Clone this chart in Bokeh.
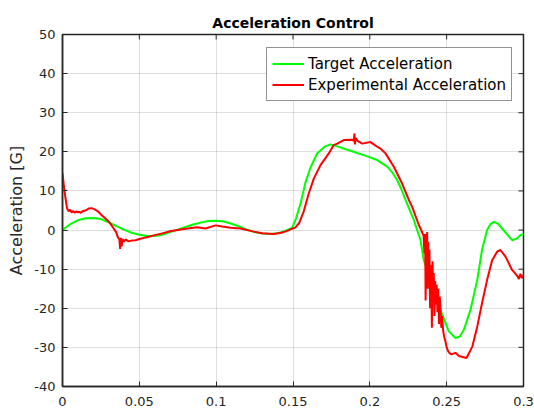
import math
from bokeh.plotting import figure
from bokeh.models import Range1d, FixedTicker, Legend, LegendItem
from bokeh.embed import file_html
from bokeh.resources import INLINE

# ---- data ----
title_text = "Acceleration Control"
y_label = "Acceleration [G]"
series_names = ["Target Acceleration", "Experimental Acceleration"]

x_min, x_max = 0, 0.3
y_min, y_max = -40, 50
x_ticks = [0, 0.05, 0.1, 0.15, 0.2, 0.25, 0.3]
x_tick_labels = ["0", "0.05", "0.1", "0.15", "0.2", "0.25", "0.3"]
y_ticks = [-40, -30, -20, -10, 0, 10, 20, 30, 40, 50]
y_tick_labels = ["-40", "-30", "-20", "-10", "0", "10", "20", "30", "40", "50"]

target_t = [0, 0.005, 0.01, 0.015, 0.02, 0.025, 0.03, 0.035, 0.04, 0.045,
            0.05, 0.055, 0.06, 0.065, 0.07, 0.075, 0.08, 0.085, 0.09, 0.095,
            0.1, 0.105, 0.11, 0.115, 0.12, 0.125, 0.13, 0.135, 0.14, 0.145,
            0.1495, 0.152, 0.155, 0.158, 0.1614, 0.1657, 0.171, 0.1744, 0.1788,
            0.185, 0.1918, 0.198, 0.2048, 0.2113, 0.2145, 0.2178, 0.2205, 0.2232,
            0.2286, 0.233, 0.2351, 0.24, 0.245, 0.2514, 0.2557, 0.2585, 0.2612,
            0.2655, 0.2699, 0.273, 0.2763, 0.2785, 0.2807, 0.2835, 0.2861,
            0.2926, 0.2955, 0.298, 0.3]
target_acc = [0, 1.5, 2.5, 3.0, 3.1, 2.8, 2.0, 1.0, 0.1, -0.7,
              -1.2, -1.5, -1.5, -1.2, -0.5, 0.1, 0.8, 1.4, 1.9, 2.3,
              2.4, 2.2, 1.6, 0.9, 0.1, -0.5, -0.9, -1.0, -0.8, -0.2,
              0.6, 3.0, 6.9, 12.0, 16.0, 19.6, 21.4, 21.9, 21.4,
              20.6, 19.7, 18.9, 17.9, 16.2, 14.8, 12.8, 10.5, 7.7,
              2.6, -2.6, -7.7, -13.5, -19.5, -25.9, -27.6, -27.2, -25.5,
              -20.4, -12.8, -5.1, 0.0, 1.5, 2.1, 1.6, 0.4,
              -2.6, -2.2, -1.3, -1.0]

exp_t = [0, 0.001, 0.002, 0.003, 0.004, 0.005, 0.006, 0.007, 0.008, 0.009,
         0.010, 0.011, 0.012, 0.013, 0.015, 0.017, 0.019, 0.021, 0.023, 0.025,
         0.027, 0.029, 0.031, 0.033, 0.035, 0.036, 0.037, 0.0375, 0.038, 0.0385,
         0.039, 0.040, 0.041, 0.043, 0.045, 0.0475, 0.05, 0.053, 0.0562, 0.06,
         0.0649, 0.07, 0.0779, 0.0876, 0.093, 0.0996, 0.104, 0.1093, 0.1158,
         0.1245, 0.13, 0.1375, 0.1425, 0.1462, 0.1516, 0.154, 0.157, 0.1603,
         0.1636, 0.1679, 0.1733, 0.1764, 0.1788, 0.1831, 0.1885, 0.1895, 0.1900,
         0.1903, 0.1908, 0.192, 0.195, 0.2004, 0.2048, 0.207, 0.2102, 0.2156,
         0.221, 0.2254, 0.2275, 0.2319, 0.2340, 0.2350, 0.2355, 0.2360, 0.2363,
         0.2367, 0.2370, 0.2373, 0.2377, 0.2380, 0.2384, 0.2388, 0.2392, 0.2396,
         0.2400, 0.2404, 0.2408, 0.2412, 0.2416, 0.2420, 0.2425, 0.2430, 0.2435,
         0.2440, 0.2445, 0.2450, 0.2455, 0.2460, 0.2465, 0.2470, 0.2478, 0.2485,
         0.2492, 0.2500, 0.2510, 0.2520, 0.2530, 0.2557, 0.258, 0.2629, 0.2667,
         0.2699, 0.273, 0.2763, 0.2796, 0.2829, 0.285, 0.2883, 0.2926, 0.2959,
         0.297, 0.298, 0.299, 0.3]
exp_acc = [14.5, 11.0, 8.0, 5.5, 4.8, 5.2, 4.5, 4.9, 4.4, 4.8,
           4.5, 4.7, 4.4, 4.8, 5.0, 5.5, 5.6, 5.3, 4.8, 4.0,
           3.3, 2.6, 1.7, 0.6, -0.6, -1.8, -2.4, -4.8, -2.0, -4.2,
           -2.3, -3.0, -2.4, -2.9, -2.7, -2.6, -2.3, -2.0, -1.7, -1.3,
           -0.85, -0.3, 0.2, 0.7, 0.4, 1.2, 0.9, 0.6, 0.4,
           -0.4, -0.8, -1.0, -0.7, -0.2, 0.7, 1.8, 4.8, 9.4,
           13.2, 16.6, 19.6, 21.7, 22.1, 23.0, 23.1, 22.8, 24.7,
           21.9, 23.5, 22.8, 22.1, 22.5, 21.3, 20.8, 19.6, 16.2,
           11.9, 7.7, 6.0, 1.3, -0.5, -1.5, -6.0, -1.0, -18.0,
           -4.0, -10.0, -0.5, -15.0, -3.0, -12.0, -5.0, -20.0, -9.0,
           -14.0, -25.0, -8.0, -16.0, -11.0, -22.0, -13.0, -19.0, -14.0,
           -21.0, -15.0, -24.0, -17.0, -20.0, -25.0, -22.0, -26.0, -27.5,
           -28.5, -30.0, -31.0, -31.5, -31.8, -31.4, -32.2, -32.7, -29.8,
           -24.7, -18.7, -12.8, -7.7, -5.5, -5.1, -6.8, -10.2, -11.7,
           -12.5, -11.2, -12.3, -11.5]

FONT = "DejaVu Sans"
AX_COLOR = "#262626"

p = figure(width=534, height=412,
           x_range=Range1d(x_min, x_max), y_range=Range1d(y_min, y_max),
           output_backend="svg", toolbar_location=None,
           min_border_left=62, min_border_right=11,
           min_border_top=34, min_border_bottom=26,
           background_fill_color="white", border_fill_color="white")

p.title.text = title_text
p.title.text_font = FONT
p.title.text_font_size = "14px"
p.title.text_font_style = "bold"
p.title.text_color = "#000000"
p.title.align = "center"
p.title.standoff = 7

p.outline_line_color = AX_COLOR
p.outline_line_width = 1.5

x_overrides = {t: s for t, s in zip(x_ticks, x_tick_labels)}
y_overrides = {t: s for t, s in zip(y_ticks, y_tick_labels)}

for ax, ticks, ov in ((p.xaxis[0], x_ticks, x_overrides), (p.yaxis[0], y_ticks, y_overrides)):
    ax.ticker = FixedTicker(ticks=ticks)
    ax.major_label_overrides = ov
    ax.major_label_text_font = FONT
    ax.major_label_text_font_size = "13px"
    ax.major_label_text_color = AX_COLOR
    ax.major_tick_in = 5
    ax.major_tick_out = 0
    ax.minor_tick_in = 0
    ax.minor_tick_out = 0
    ax.axis_line_color = AX_COLOR
    ax.axis_line_width = 1.5
    ax.major_tick_line_color = AX_COLOR

p.xaxis[0].major_label_standoff = 10
p.yaxis[0].major_label_standoff = 7
p.yaxis[0].axis_label = y_label
p.yaxis[0].axis_label_text_font = FONT
p.yaxis[0].axis_label_text_font_size = "16px"
p.yaxis[0].axis_label_text_font_style = "normal"
p.yaxis[0].axis_label_text_color = AX_COLOR
p.yaxis[0].axis_label_standoff = 5

# inward ticks on the top and right edges (box-style axes), clipped to the frame
p.scatter(x_ticks, [y_max] * len(x_ticks), marker="dash", size=10,
          angle=math.pi / 2, line_color=AX_COLOR, line_width=1)
p.scatter([x_max] * len(y_ticks), y_ticks, marker="dash", size=10,
          line_color=AX_COLOR, line_width=1)

p.xgrid.ticker = FixedTicker(ticks=x_ticks)
p.ygrid.ticker = FixedTicker(ticks=y_ticks)
p.grid.grid_line_color = "#262626"
p.grid.grid_line_alpha = 0.15
p.grid.grid_line_width = 1

r_target = p.line(target_t, target_acc, line_color="#00ff00", line_width=2)
r_exp = p.line(exp_t, exp_acc, line_color="#ff0000", line_width=2)

legend = Legend(items=[LegendItem(label=series_names[0], renderers=[r_target]),
                       LegendItem(label=series_names[1], renderers=[r_exp])],
                location=(204, 285),
                label_text_font=FONT, label_text_font_size="15px",
                label_text_color="#000000",
                glyph_width=32, glyph_height=21, label_height=21,
                label_standoff=4, padding=5, spacing=0, margin=0,
                border_line_color=AX_COLOR, border_line_width=1,
                background_fill_color="white", background_fill_alpha=1)
p.add_layout(legend, "center")

open("out.html", "w").write(file_html(p, INLINE))
